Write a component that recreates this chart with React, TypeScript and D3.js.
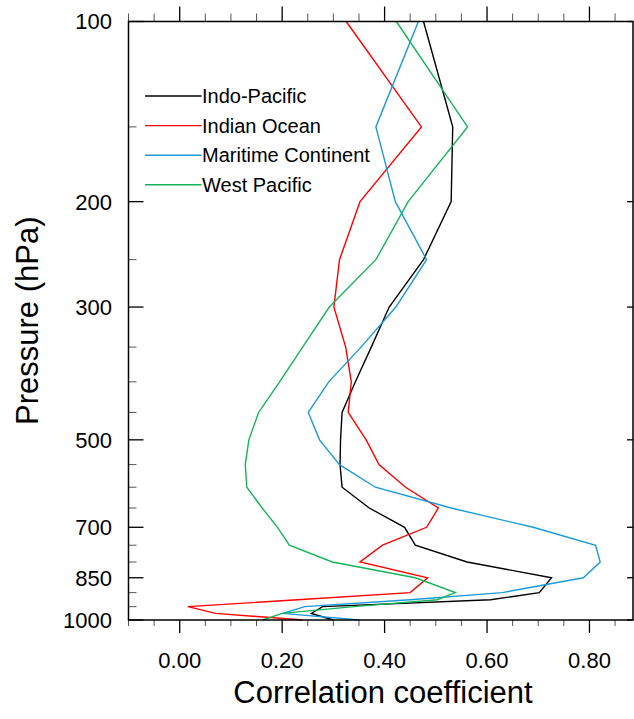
import React, { useEffect, useRef } from 'react';
import * as d3 from 'd3';

// pressure levels (hPa) and correlation profiles
const levels = [100, 150, 200, 250, 300, 350, 400, 450, 500, 550, 600, 650, 700, 750, 800, 850, 900, 925, 950, 975, 1000];
const indoPacific = [0.476, 0.533, 0.53, 0.476, 0.409, 0.374, 0.343, 0.317, 0.314, 0.313, 0.317, 0.37, 0.439, 0.46, 0.561, 0.726, 0.702, 0.607, 0.279, 0.257, 0.3];
const indianOcean = [0.325, 0.472, 0.352, 0.312, 0.301, 0.324, 0.335, 0.329, 0.364, 0.389, 0.441, 0.505, 0.482, 0.396, 0.352, 0.484, 0.45, 0.23, 0.016, 0.07, 0.24];
const maritimeContinent = [0.466, 0.383, 0.421, 0.482, 0.422, 0.354, 0.291, 0.251, 0.273, 0.312, 0.382, 0.53, 0.69, 0.812, 0.821, 0.788, 0.63, 0.45, 0.244, 0.201, 0.351];
const westPacific = [0.423, 0.562, 0.446, 0.383, 0.292, 0.24, 0.195, 0.154, 0.135, 0.128, 0.131, 0.161, 0.191, 0.214, 0.298, 0.46, 0.538, 0.503, 0.34, 0.2, 0.162];

const seriesNames = ['Indo-Pacific', 'Indian Ocean', 'Maritime Continent', 'West Pacific'];
const seriesColors = ['#000000', '#ff0000', '#1b9ad6', '#16b45a'];

// axis ticks
const majorLevels = [100, 200, 300, 500, 700, 850, 1000];
const minorLevels = [150, 250, 350, 400, 450, 550, 600, 650, 750, 800, 900, 950];
const xTicks = [0, 0.2, 0.4, 0.6, 0.8];
const xMinorTicks = [-0.1, -0.05, 0.05, 0.1, 0.15, 0.25, 0.3, 0.35, 0.45, 0.5, 0.55, 0.65, 0.7, 0.75, 0.85];

const FONT = '"Liberation Sans", Arial, Helvetica, sans-serif';

const App = () => {
  const ref = useRef<SVGSVGElement | null>(null);

  useEffect(() => {
    const width = 634;
    const height = 719;
    const left = 128.5;
    const right = 633;
    const top = 21.5;
    const bottom = 620;

    const svg = d3.select(ref.current).attr('width', width).attr('height', height);
    svg.selectAll('*').remove();

    const x = d3.scaleLinear().domain([-0.1, 0.885]).range([left, right]);
    const y = d3.scaleLog().domain([100, 1000]).range([top, bottom]);

    svg.append('rect').attr('width', width).attr('height', height).attr('fill', '#fff');

    // profiles
    const line = d3
      .line<number>()
      .x((d) => x(d))
      .y((d, i) => y(levels[i]));

    const allSeries = [indoPacific, indianOcean, maritimeContinent, westPacific];
    allSeries.forEach((s, k) => {
      svg
        .append('path')
        .datum(s)
        .attr('d', line)
        .attr('fill', 'none')
        .attr('stroke', seriesColors[k])
        .attr('stroke-width', 1.4)
        .attr('stroke-linejoin', 'miter');
    });

    const ax = svg.append('g').attr('stroke', '#000').attr('fill', 'none');

    // x ticks top (outward) and bottom (outward)
    xTicks.forEach((t) => {
      ax.append('line').attr('x1', x(t)).attr('x2', x(t)).attr('y1', top).attr('y2', top - 15).attr('stroke-width', 1.3);
      ax.append('line').attr('x1', x(t)).attr('x2', x(t)).attr('y1', bottom).attr('y2', bottom + 13).attr('stroke-width', 1.3);
    });
    xMinorTicks.forEach((t) => {
      ax.append('line').attr('x1', x(t)).attr('x2', x(t)).attr('y1', top).attr('y2', top - 8).attr('stroke-width', 1).attr('stroke', '#555');
      ax.append('line').attr('x1', x(t)).attr('x2', x(t)).attr('y1', bottom).attr('y2', bottom + 6).attr('stroke-width', 1).attr('stroke', '#555');
    });

    // y ticks, inward
    majorLevels.forEach((p) => {
      ax.append('line').attr('x1', left).attr('x2', left + 15).attr('y1', y(p)).attr('y2', y(p)).attr('stroke-width', 1.3);
      ax.append('line').attr('x1', right).attr('x2', right - 6).attr('y1', y(p)).attr('y2', y(p)).attr('stroke-width', 1.3);
    });
    minorLevels.forEach((p) => {
      ax.append('line').attr('x1', left).attr('x2', left + 8).attr('y1', y(p)).attr('y2', y(p)).attr('stroke-width', 1).attr('stroke', '#555');
    });

    // frame
    ax.append('rect')
      .attr('x', left)
      .attr('y', top)
      .attr('width', right - left)
      .attr('height', bottom - top)
      .attr('stroke-width', 1.5);

    // tick labels
    svg
      .selectAll('text.xt')
      .data(xTicks)
      .enter()
      .append('text')
      .attr('x', (d) => x(d))
      .attr('y', 668)
      .attr('text-anchor', 'middle')
      .attr('font-family', FONT)
      .attr('font-size', 22)
      .text((d) => d.toFixed(2));

    svg
      .selectAll('text.yt')
      .data(majorLevels)
      .enter()
      .append('text')
      .attr('x', 112)
      .attr('y', (d) => y(d))
      .attr('dy', '0.36em')
      .attr('text-anchor', 'end')
      .attr('font-family', FONT)
      .attr('font-size', 22)
      .text((d) => d);

    // axis titles
    svg
      .append('text')
      .attr('x', 383)
      .attr('y', 703)
      .attr('text-anchor', 'middle')
      .attr('font-family', FONT)
      .attr('font-size', 31)
      .text('Correlation coefficient');

    svg
      .append('text')
      .attr('transform', `translate(38, ${(top + bottom) / 2}) rotate(-90)`)
      .attr('text-anchor', 'middle')
      .attr('font-family', FONT)
      .attr('font-size', 31)
      .text('Pressure (hPa)');

    // legend
    const legend = svg.append('g');
    seriesNames.forEach((name, i) => {
      const ly = 96 + i * 29.6;
      legend
        .append('line')
        .attr('x1', 145)
        .attr('x2', 201.5)
        .attr('y1', ly)
        .attr('y2', ly)
        .attr('stroke', seriesColors[i])
        .attr('stroke-width', 1.4);
      legend
        .append('text')
        .attr('x', 202)
        .attr('y', ly)
        .attr('dy', '0.36em')
        .attr('font-family', FONT)
        .attr('font-size', 20)
        .text(name);
    });

    return () => {
      d3.select(ref.current).selectAll('*').remove();
    };
  }, []);

  return <svg ref={ref} style={{ position: 'absolute', left: 0, top: 0, display: 'block' }} />;
};

export default App;
